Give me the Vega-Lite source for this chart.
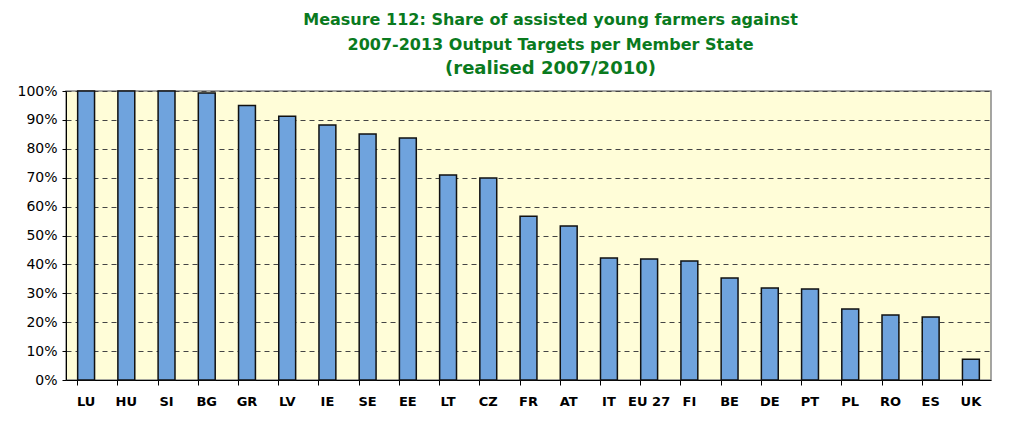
{
  "$schema": "https://vega.github.io/schema/vega-lite/v6.json",
  "width": 925,
  "height": 289,
  "autosize": "none",
  "padding": {"left": 66, "top": 91, "right": 25, "bottom": 43},
  "background": "white",
  "title": {
    "text": ["Measure 112: Share of assisted young farmers against", "2007-2013 Output Targets  per Member State"],
    "subtitle": "(realised 2007/2010)",
    "font": "DejaVu Sans",
    "fontWeight": "bold",
    "fontSize": 16,
    "lineHeight": 25,
    "color": "#0A7A1E",
    "subtitleFont": "DejaVu Sans",
    "subtitleFontWeight": "bold",
    "subtitleFontSize": 18,
    "subtitleColor": "#0A7A1E",
    "subtitlePadding": 7,
    "anchor": "middle",
    "dx": 22,
    "offset": 6
  },
  "data": {
    "values": [
      {"country": "LU", "share": 1.0},
      {"country": "HU", "share": 1.0},
      {"country": "SI", "share": 1.0},
      {"country": "BG", "share": 0.993},
      {"country": "GR", "share": 0.95},
      {"country": "LV", "share": 0.913},
      {"country": "IE", "share": 0.882},
      {"country": "SE", "share": 0.851},
      {"country": "EE", "share": 0.837},
      {"country": "LT", "share": 0.709},
      {"country": "CZ", "share": 0.699},
      {"country": "FR", "share": 0.567},
      {"country": "AT", "share": 0.533},
      {"country": "IT", "share": 0.422},
      {"country": "EU 27", "share": 0.419},
      {"country": "FI", "share": 0.412},
      {"country": "BE", "share": 0.353},
      {"country": "DE", "share": 0.318},
      {"country": "PT", "share": 0.315},
      {"country": "PL", "share": 0.246},
      {"country": "RO", "share": 0.225},
      {"country": "ES", "share": 0.218},
      {"country": "UK", "share": 0.072}
    ]
  },
  "mark": {"type": "bar", "fill": "#6FA3DD", "stroke": "#111111", "strokeWidth": 1.5},
  "encoding": {
    "x": {
      "field": "country",
      "type": "nominal",
      "sort": null,
      "scale": {"paddingInner": 0.58, "paddingOuter": 0.29},
      "axis": {
        "title": null,
        "labelAngle": 0,
        "labelFont": "DejaVu Sans",
        "labelFontWeight": "bold",
        "labelFontSize": 13,
        "labelColor": "#000000",
        "labelPadding": 10,
        "domainColor": "#000000",
        "tickColor": "#000000",
        "tickSize": 5,
        "bandPosition": 0
      }
    },
    "y": {
      "field": "share",
      "type": "quantitative",
      "scale": {"domain": [0, 1]},
      "axis": {
        "title": null,
        "format": ".0%",
        "values": [0, 0.1, 0.2, 0.3, 0.4, 0.5, 0.6, 0.7, 0.8, 0.9, 1.0],
        "labelFont": "DejaVu Sans",
        "labelFontSize": 14,
        "labelColor": "#000000",
        "labelPadding": 5,
        "domainColor": "#000000",
        "tickColor": "#000000",
        "tickSize": 4,
        "grid": true,
        "gridColor": "#444444",
        "gridDash": [5, 4],
        "gridWidth": 1
      }
    }
  },
  "config": {
    "view": {"fill": "#FFFDD8", "stroke": "#888888", "strokeWidth": 1.5}
  }
}
